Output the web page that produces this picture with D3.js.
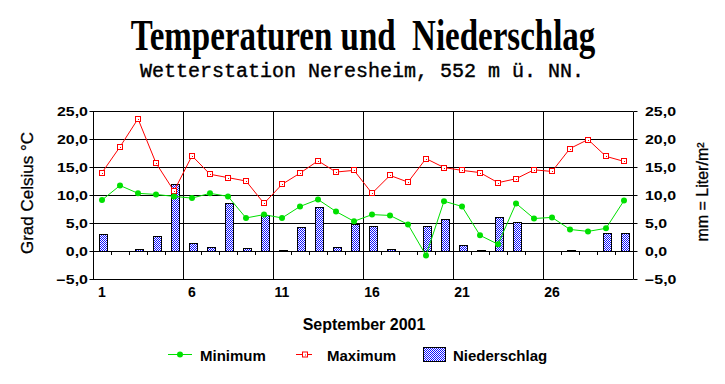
<!DOCTYPE html>
<html>
<head>
<meta charset="utf-8">
<script src="https://cdn.jsdelivr.net/npm/d3@7"></script>
<style>
  body { margin: 0; background: #fff; }
  svg text { font-family: "Liberation Sans", Arial, sans-serif; }
</style>
</head>
<body>
<div id="chart"></div>
<script>
// September 2001, Wetterstation Neresheim
var days = [1, 2, 3, 4, 5, 6, 7, 8, 9, 10, 11, 12, 13, 14, 15,
            16, 17, 18, 19, 20, 21, 22, 23, 24, 25, 26, 27, 28, 29, 30]
var tempMin = [9.1, 11.7, 10.3, 10.1, 9.75, 9.45, 10.3, 9.75, 5.9, 6.5,
               5.9, 7.95, 9.2, 7.05, 5.3, 6.5, 6.35, 4.75, -0.8, 8.9,
               7.95, 2.8, 1.2, 8.5, 5.8, 6.0, 3.85, 3.5, 4.05, 9.0]
var tempMax = [14.0, 18.6, 23.6, 15.7, 10.7, 17.0, 13.7, 13.1, 12.5, 8.5,
               11.9, 13.9, 16.1, 14.1, 14.4, 10.3, 13.5, 12.3, 16.5, 14.9,
               14.4, 14.0, 12.2, 12.9, 14.5, 14.2, 18.3, 19.9, 16.9, 16.0]
var rain = [3.1, 0, 0.3, 2.6, 12.0, 1.5, 0.7, 8.5, 0.5, 6.5,
            0.1, 4.2, 7.8, 0.7, 4.9, 4.5, 0.3, 0, 4.5, 5.7,
            1.0, 0.1, 6.0, 5.1, 0, 0, 0.1, 0, 3.3, 3.3]
var yTicks = [-5, 0, 5, 10, 15, 20, 25]
var xTickDays = [1, 6, 11, 16, 21, 26]
var legendLabels = ['Minimum', 'Maximum', 'Niederschlag']

var W = 725, H = 384
var plotL = 93, plotR = 633, plotT = 111, plotB = 279

var svg = d3.select('#chart').append('svg')
  .attr('width', W).attr('height', H)

// dotted blue fill of the rain bars
var defs = svg.append('defs')
var pat = defs.append('pattern').attr('id', 'dots')
  .attr('patternUnits', 'userSpaceOnUse').attr('width', 2).attr('height', 2)
pat.append('rect').attr('width', 2).attr('height', 2).attr('fill', '#1010ff')
pat.append('rect').attr('x', 1).attr('y', 0).attr('width', 1).attr('height', 1).attr('fill', '#fff')
pat.append('rect').attr('x', 0).attr('y', 1).attr('width', 1).attr('height', 1).attr('fill', '#fff')

var x = d3.scaleBand().domain(days).range([plotL, plotR])
var y = d3.scaleLinear().domain([-5, 25]).range([plotB, plotT])
var fmt = d3.formatLocale({decimal: ',', thousands: '.', grouping: [3], currency: ['', '']}).format('.1f')

var green = '#00e000', red = '#ff0000'
var px = v => Math.round(v) + 0.5

// titles
svg.append('text')
  .attr('transform', 'translate(363,50) scale(0.75,1)')
  .attr('text-anchor', 'middle')
  .style('font-family', '"Liberation Serif", "Times New Roman", serif')
  .style('font-weight', 'bold').style('font-size', '44px')
  .style('white-space', 'pre')
  .text('Temperaturen und  Niederschlag')

svg.append('text')
  .attr('x', 362).attr('y', 77)
  .attr('text-anchor', 'middle')
  .style('font-family', '"Liberation Mono", "Courier New", monospace')
  .style('font-size', '20px')
  .attr('stroke', '#000').attr('stroke-width', 0.4)
  .text('Wetterstation Neresheim, 552 m ü. NN.')

// horizontal grid
svg.append('g').selectAll('line').data(yTicks).join('line')
  .attr('x1', plotL).attr('x2', plotR)
  .attr('y1', d => px(y(d))).attr('y2', d => px(y(d)))
  .attr('stroke', '#000')

// vertical grid at days 6, 11, ...
svg.append('g').selectAll('line').data(xTickDays.slice(1)).join('line')
  .attr('x1', d => px(x(d))).attr('x2', d => px(x(d)))
  .attr('y1', y(25)).attr('y2', y(-5))
  .attr('stroke', '#000')

// axis lines + outward ticks
;[[plotL, -4], [plotR, 4]].forEach(function(a){
  var xx = px(a[0])
  svg.append('line').attr('x1', xx).attr('x2', xx).attr('y1', px(y(25))).attr('y2', px(y(-5))).attr('stroke', '#000')
  svg.append('g').selectAll('line').data(yTicks).join('line')
    .attr('x1', xx).attr('x2', xx + a[1])
    .attr('y1', d => px(y(d))).attr('y2', d => px(y(d)))
    .attr('stroke', '#000')
})

// category ticks on the zero line
svg.append('g').selectAll('line').data(days.slice(1)).join('line')
  .attr('x1', d => px(x(d))).attr('x2', d => px(x(d)))
  .attr('y1', Math.round(y(0))).attr('y2', Math.round(y(0)) + 4)
  .attr('stroke', '#000')

// y tick labels, both sides
svg.append('g').selectAll('text').data(yTicks).join('text')
  .attr('transform', d => 'translate(' + (plotL - 5) + ',' + (y(d) + 4.5) + ') scale(1.33,1)')
  .attr('text-anchor', 'end')
  .style('font-size', '12px').style('font-weight', 'bold')
  .text(d => fmt(d))
svg.append('g').selectAll('text').data(yTicks).join('text')
  .attr('transform', d => 'translate(' + (plotR + 12) + ',' + (y(d) + 4.5) + ') scale(1.33,1)')
  .attr('text-anchor', 'start')
  .style('font-size', '12px').style('font-weight', 'bold')
  .text(d => fmt(d))

// x tick labels
svg.append('g').selectAll('text').data(xTickDays).join('text')
  .attr('x', d => x(d) + x.bandwidth() / 2).attr('y', 297)
  .attr('text-anchor', 'middle')
  .style('font-size', '14px').style('font-weight', 'bold')
  .text(d => d)

// axis titles
svg.append('text')
  .attr('transform', 'translate(33,193) rotate(-90)')
  .attr('text-anchor', 'middle')
  .style('font-size', '17px')
  .attr('stroke', '#000').attr('stroke-width', 0.3)
  .text('Grad Celsius °C')
svg.append('text')
  .attr('transform', 'translate(708,192) rotate(-90)')
  .attr('text-anchor', 'middle')
  .style('font-size', '16px')
  .attr('stroke', '#000').attr('stroke-width', 0.3)
  .text('mm = Liter/m²')
svg.append('text')
  .attr('x', 364).attr('y', 330)
  .attr('text-anchor', 'middle')
  .style('font-size', '16px').style('font-weight', 'bold')
  .text('September 2001')

// precipitation bars
svg.append('g').selectAll('rect').data(days.filter((d, i) => rain[i] > 0)).join('rect')
  .attr('x', d => Math.round(x(d)) + 6.5)
  .attr('width', 8)
  .attr('y', d => px(y(rain[days.indexOf(d)])))
  .attr('height', d => Math.max(0, Math.round(y(0)) - Math.round(y(rain[days.indexOf(d)]))))
  .attr('fill', 'url(#dots)').attr('stroke', '#000')

var cx = d => x(d) + x.bandwidth() / 2

// maximum
svg.append('path')
  .attr('d', d3.line().x((d, i) => cx(days[i])).y(d => y(d))(tempMax))
  .attr('fill', 'none').attr('stroke', red).attr('stroke-width', 1)
var maxPts = svg.append('g').selectAll('g').data(tempMax).join('g')
  .attr('transform', (d, i) => 'translate(' + Math.round(cx(days[i])) + ',' + Math.round(y(d)) + ')')
maxPts.append('rect').attr('x', -2.5).attr('y', -2.5).attr('width', 5).attr('height', 5)
  .attr('fill', '#fff').attr('stroke', red)
maxPts.append('rect').attr('x', 0).attr('y', 0).attr('width', 1).attr('height', 1).attr('fill', red)

// minimum
svg.append('path')
  .attr('d', d3.line().x((d, i) => cx(days[i])).y(d => y(d))(tempMin))
  .attr('fill', 'none').attr('stroke', green).attr('stroke-width', 1)
svg.append('g').selectAll('circle').data(tempMin).join('circle')
  .attr('cx', (d, i) => cx(days[i])).attr('cy', d => y(d)).attr('r', 3)
  .attr('fill', green)

// legend
var lg = svg.append('g')
lg.append('line').attr('x1', 168).attr('x2', 192).attr('y1', 354.5).attr('y2', 354.5).attr('stroke', green)
lg.append('circle').attr('cx', 180).attr('cy', 354.5).attr('r', 3).attr('fill', green)
lg.append('line').attr('x1', 296).attr('x2', 312).attr('y1', 354.5).attr('y2', 354.5).attr('stroke', red)
lg.append('rect').attr('x', 302.5).attr('y', 352).attr('width', 5).attr('height', 5).attr('fill', '#fff').attr('stroke', red)
lg.append('rect').attr('x', 305).attr('y', 354.5).attr('width', 1).attr('height', 1).attr('fill', red)
lg.append('rect').attr('x', 423.5).attr('y', 347.5).attr('width', 22).attr('height', 14)
  .attr('fill', 'url(#dots)').attr('stroke', '#000')
lg.selectAll('text').data(legendLabels).join('text')
  .attr('x', (d, i) => [200, 327, 453][i]).attr('y', 361)
  .style('font-size', '15px').style('font-weight', 'bold')
  .text(d => d)
</script>
</body>
</html>
